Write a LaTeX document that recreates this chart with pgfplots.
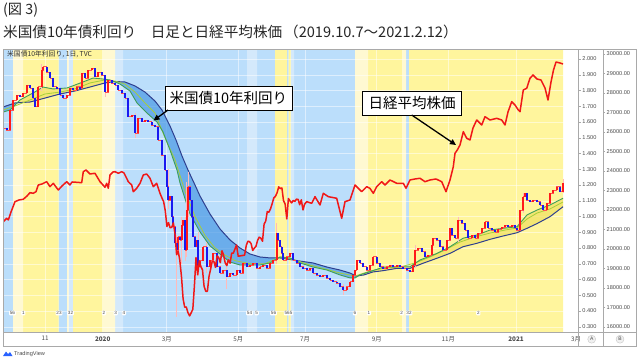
\documentclass[border=0pt]{standalone}
\usepackage{fontspec}
\setmainfont{Noto Sans CJK JP}
\newfontfamily\tickfont{Liberation Sans}
\usepackage{pgfplots}
\pgfplotsset{compat=1.18}
\usepackage{pgfplotstable}
\usetikzlibrary{arrows.meta}

\definecolor{bgY}{HTML}{FFF59D}
\definecolor{bgPY}{HTML}{FFF9D2}
\definecolor{bgB}{HTML}{BBDEFB}
\definecolor{bgPB}{HTML}{D4E9FB}
\definecolor{maNavy}{HTML}{2E3F8F}
\definecolor{maGreen}{HTML}{3E9E5A}
\definecolor{maLime}{HTML}{A6CF3A}
\definecolor{fillB}{HTML}{4D9BE6}
\definecolor{fillY}{HTML}{F0E060}
\definecolor{nkRed}{HTML}{F01818}
\definecolor{cUp}{HTML}{FF1A1A}
\definecolor{cDn}{HTML}{1A1AF0}
\definecolor{frameG}{HTML}{A9A9A9}
\definecolor{tickG}{HTML}{4A4A4A}
\definecolor{tvBlue}{HTML}{2962FF}

% US 10y yield candles: x (bar position), open, close
\pgfplotstableread{
x o c
3.3 1.545 1.560
6.7 1.560 1.549
10 1.549 1.676
13.3 1.676 1.740
16.7 1.740 1.771
20 1.771 1.761
23.3 1.761 1.782
26.7 1.782 1.835
30 1.835 1.814
33.3 1.814 1.750
35 1.750 1.697
38.3 1.697 1.824
41.7 1.824 1.930
43.3 1.930 1.951
46.7 1.951 1.919
50 1.919 1.877
53.3 1.877 1.824
56.7 1.824 1.814
60 1.814 1.771
63.3 1.771 1.750
66.7 1.750 1.771
70 1.771 1.814
73.3 1.814 1.803
76.7 1.803 1.824
80 1.824 1.814
81.7 1.814 1.909
85 1.909 1.877
88.3 1.877 1.930
91.7 1.930 1.941
95 1.941 1.888
98.3 1.888 1.919
101.7 1.919 1.898
105 1.898 1.792
108.3 1.792 1.867
111.7 1.867 1.846
115 1.846 1.835
118.3 1.835 1.803
121.7 1.803 1.782
125 1.782 1.750
128.3 1.750 1.634
131.7 1.634 1.644
135 1.644 1.528
138.3 1.528 1.623
141.7 1.623 1.602
145 1.602 1.613
148.3 1.613 1.602
151.7 1.602 1.581
155 1.581 1.570
158.3 1.570 1.486
161.7 1.486 1.390
165 1.390 1.295
166.7 1.295 1.189
168.3 1.189 1.105
170 1.105 1.130
171.7 1.130 0.999
173.3 0.999 0.935
175 0.935 0.830
176.7 0.830 0.787
178.3 0.787 0.872
180 0.872 0.851
181.7 0.851 0.946
183.3 0.946 0.978
185 0.978 0.787
186.7 0.787 1.041
188.3 1.041 1.189
190 1.189 1.105
191.7 1.105 0.999
193.3 0.999 0.872
195 0.872 0.808
196.7 0.808 0.851
198.3 0.851 0.681
200 0.681 0.720
203.3 0.720 0.808
206.7 0.808 0.681
210 0.681 0.724
213.3 0.724 0.766
216.7 0.766 0.681
220 0.681 0.639
223.3 0.639 0.660
226.7 0.660 0.618
230 0.618 0.639
233.3 0.639 0.629
236.7 0.629 0.660
240 0.660 0.639
243.3 0.639 0.703
246.7 0.703 0.681
250 0.681 0.692
253.3 0.692 0.703
256.7 0.703 0.671
260 0.671 0.681
263.3 0.681 0.692
266.7 0.692 0.671
270 0.671 0.703
273.3 0.703 0.724
276.7 0.724 0.893
278.3 0.893 0.851
280 0.851 0.808
281.7 0.808 0.766
283.3 0.766 0.724
286.7 0.724 0.745
290 0.745 0.766
293.3 0.766 0.724
296.7 0.724 0.703
300 0.703 0.681
303.3 0.681 0.671
306.7 0.671 0.660
310 0.660 0.671
313.3 0.671 0.639
316.7 0.639 0.629
320 0.629 0.618
323.3 0.618 0.629
326.7 0.629 0.608
330 0.608 0.597
333.3 0.597 0.586
336.7 0.586 0.576
340 0.576 0.554
343.3 0.554 0.533
346.7 0.533 0.554
350 0.554 0.586
353.3 0.586 0.629
355 0.629 0.660
356.7 0.660 0.724
360 0.724 0.703
363.3 0.703 0.681
366.7 0.681 0.660
370 0.660 0.692
373.3 0.692 0.745
376.7 0.745 0.703
380 0.703 0.681
383.3 0.681 0.671
386.7 0.671 0.681
390 0.681 0.692
393.3 0.692 0.681
396.7 0.681 0.692
400 0.692 0.681
403.3 0.681 0.671
406.7 0.671 0.660
410 0.660 0.650
413.3 0.650 0.692
415 0.692 0.787
418.3 0.787 0.798
421.7 0.798 0.777
425 0.777 0.745
428.3 0.745 0.756
431.7 0.756 0.819
433.3 0.819 0.862
436.7 0.862 0.851
440 0.851 0.808
443.3 0.808 0.787
446.7 0.787 0.851
450 0.851 0.925
451.7 0.925 0.883
455 0.883 0.862
458.3 0.862 0.978
461.7 0.978 0.957
465 0.957 0.914
468.3 0.914 0.862
471.7 0.862 0.883
475 0.883 0.862
478.3 0.862 0.893
481.7 0.893 0.925
485 0.925 0.967
488.3 0.967 0.925
491.7 0.925 0.914
495 0.914 0.903
498.3 0.903 0.921
501.7 0.921 0.931
505 0.931 0.946
508.3 0.946 0.935
511.7 0.935 0.946
515 0.946 0.925
516.7 0.925 0.914
520 0.914 1.041
523.3 1.041 1.126
525 1.126 1.147
526.7 1.147 1.105
530 1.105 1.094
533.3 1.094 1.105
536.7 1.105 1.094
540 1.094 1.073
543.3 1.073 1.041
546.7 1.041 1.084
550 1.084 1.147
553.3 1.147 1.168
556.7 1.168 1.189
560 1.189 1.158
563.3 1.158 1.211
}\candles

% a few long candle wicks: x, low, high
\pgfplotstableread{
x lo hi
41.7 1.80 1.97
105 1.76 1.90
135 1.50 1.66
168.3 1.05 1.30
176.7 0.36 0.88
181.7 0.70 1.00
185 0.72 1.00
186.7 0.74 1.22
188.3 1.00 1.28
198.3 0.62 0.90
206.7 0.64 0.84
226.7 0.54 0.68
276.7 0.70 0.96
343.3 0.50 0.57
415 0.67 0.82
458.3 0.84 1.00
523.3 1.02 1.15
563.3 1.15 1.24
}\wicks

\pgfplotstableread{
x y
3 1.695
15 1.721
30 1.727
45 1.752
60 1.778
75 1.797
90 1.822
105 1.848
115 1.857
125 1.854
135 1.829
145 1.790
155 1.733
162 1.676
170 1.575
176 1.486
182 1.384
188 1.295
195 1.200
200 1.130
210 1.016
220 0.921
230 0.851
240 0.800
250 0.762
260 0.743
270 0.737
280 0.737
293 0.724
300 0.717
313 0.705
327 0.679
340 0.660
350 0.641
356 0.622
364 0.629
373 0.648
383 0.656
397 0.671
410 0.671
423 0.703
437 0.735
450 0.766
463 0.808
477 0.830
490 0.855
503 0.876
517 0.897
527 0.925
537 0.955
550 0.999
563 1.062
}\navyMA

\pgfplotstableread{
x y
3 1.663
10 1.676
20 1.740
33 1.784
43 1.822
53 1.810
67 1.816
83 1.854
93 1.879
103 1.873
110 1.867
120 1.841
130 1.797
137 1.721
147 1.657
157 1.600
163 1.537
170 1.422
177 1.295
180 1.213
187 1.073
190 1.016
200 0.902
210 0.813
220 0.762
230 0.711
240 0.692
250 0.692
260 0.692
270 0.705
280 0.743
290 0.737
300 0.705
313 0.679
327 0.660
340 0.629
350 0.610
355 0.610
360 0.629
370 0.650
383 0.678
397 0.681
410 0.681
420 0.724
437 0.766
450 0.808
463 0.862
477 0.883
490 0.914
503 0.925
517 0.935
527 1.010
537 1.041
550 1.073
563 1.116
}\greenMA

\pgfplotstableread{
x y
3 1.676
15 1.702
30 1.740
45 1.778
60 1.790
75 1.810
90 1.848
105 1.867
115 1.860
125 1.841
135 1.790
145 1.721
155 1.657
165 1.500
175 1.360
185 1.160
195 1.000
205 0.880
215 0.800
225 0.755
235 0.720
250 0.700
265 0.700
280 0.743
295 0.724
310 0.692
325 0.667
340 0.641
355 0.622
370 0.654
385 0.673
400 0.679
415 0.705
430 0.743
445 0.787
460 0.838
475 0.870
490 0.895
505 0.914
517 0.927
527 0.984
537 1.022
550 1.048
563 1.092
}\limeMA

\pgfplotstableread{
x y
3.3 21392
6.7 21567
8.3 21479
11 21890
15 22419
19 22506
23.3 22542
27 22711
30 22881
33.3 22850
36 22932
38.3 23276
42 23327
46.7 23445
50 23189
53.3 23363
56 23173
58.3 23019
62 23224
66.7 23445
70 23276
72 23430
76.7 23414
81.7 23394
83.3 23959
86 24046
90 23841
95 23876
100 23445
103 23276
105 23158
106.7 23363
108.3 23107
110 23789
113 23943
115 23959
118.3 23876
121.7 23959
124 23892
128.3 23445
131.7 23276
133.3 22932
136.7 23107
140 23363
143.3 23789
146.7 23841
150 23620
153.3 23189
156.7 23363
160 22850
162 22605
163.6 22426
165.3 21948
166.9 21142
168.5 21344
170.1 21082
171.7 21100
173.4 21329
175 20750
176.6 19698
178.2 19867
179.8 19416
181.5 18560
183.1 17431
184.7 17002
186.3 17012
187.9 16727
189.6 16552
192.8 16887
194.4 18092
196 19546
197.7 18665
199.3 19389
200.9 19084
202.5 18917
204.1 18065
205.8 17819
207.4 17820
209 18576
210.6 18950
212.2 19353
213.9 19345
215.5 19043
217.1 19638
218.7 19550
220.3 19290
222 19897
223.6 19669
225.2 19280
226.8 19137
228.4 19429
230.1 19262
231.7 19783
233.3 19771
236.5 20193
238.2 19619
244.6 19674
246.3 20179
247.9 20390
249.5 20366
251.1 20267
252.7 19914
254.4 20037
256 20133
257.6 20433
259.2 20595
260.8 20552
262.5 20388
264.1 21271
265.7 21419
267.3 21916
268.9 21877
270.6 22062
272.2 22325
273.8 22613
275.4 22695
277 22863
278.7 23178
280.3 23091
281.9 23124
283.5 22472
285.1 22305
286.8 21530
288.4 22582
290 22455
291.6 22355
293.2 22478
294.9 22437
296.5 22549
298.1 22534
299.7 22260
301.3 22512
303 21995
304.6 22288
306.7 22420
311.7 22336
315 22676
320 22250
323.3 22850
328.3 22676
336.7 22594
341.7 21566
345 22420
350 22506
355 23276
361.7 22932
366.7 23189
370 23100
373.3 22850
376.7 23189
381.7 23445
385 23276
390 23533
396.7 23363
403.3 23363
406 23107
410 23533
415 23584
420 23620
425 23445
430 23533
436 23584
441.7 23445
446 22932
448.3 23276
450 23533
453.3 24216
455 24903
457.3 25073
460 25329
463.3 26012
466.7 25673
470 25586
473 26202
476.7 26612
481.7 26356
485 26782
490 26612
496.7 26699
501.7 26612
505 26356
508 27023
511.7 27552
515 27382
518.3 27126
520 27039
523.3 28152
526.7 28240
530 28753
533 28923
537 28717
541 28666
545 28255
548 27639
551 28563
553.5 29179
556 29590
560 29538
563 29487
}\nikkei

\pgfplotsset{
  chartbox/.style={at={(3pt,27.3pt)}, anchor=south west, scale only axis, height=283.7pt},
}

\begin{document}
\begin{tikzpicture}[x=1pt,y=1pt]
\path[use as bounding box] (0,0) rectangle (640,360);

% ---- background state bands
\begin{axis}[chartbox, width=575.7pt, xmin=3, xmax=578.7, ymin=0.2622, ymax=2.0635, hide axis]
\addplot[fill=bgB, draw=none] coordinates {(3,0)(3,3)(13,3)(13,0)(58.5,0)(58.5,3)(67,3)(67,0)(123,0)(123,3)(247,3)(247,0)(257,0)(257,3)(275,3)(275,0)(287,0)(287,3)(288.5,3)(288.5,0)(294,0)(294,3)(355,3)(355,0)(406,0)(406,3)(409,3)(409,0)} --cycle;
\addplot[fill=bgPB, draw=none] coordinates {(68.5,0)(68.5,3)(73,3)(73,0)(115,0)(115,3)(123,3)(123,0)(247,0)(247,3)(257,3)(257,0)(290.5,0)(290.5,3)(294,3)(294,0)} --cycle;
\addplot[fill=bgY, draw=none] coordinates {(23,0)(23,3)(58.5,3)(58.5,0)(73,0)(73,3)(103,3)(103,0)(275,0)(275,3)(287,3)(287,0)(288.5,0)(288.5,3)(290.5,3)(290.5,0)(368,0)(368,3)(402,3)(402,0)(409,0)(409,3)(563,3)(563,0)} --cycle;
\addplot[fill=bgPY, draw=none] coordinates {(13,0)(13,3)(23,3)(23,0)(67,0)(67,3)(68.5,3)(68.5,0)(103,0)(103,3)(115,3)(115,0)(355,0)(355,3)(368,3)(368,0)(402,0)(402,3)(406,3)(406,0)} --cycle;
\end{axis}

% ---- yield axis
\begin{axis}[chartbox, width=575.7pt, xmin=3, xmax=578.7, ymin=0.2622, ymax=2.0635,
  axis line style={draw=none},
  xtick={45,102.7,166.7,238.3,305,376.7,448.3,516,576},
  xticklabels={11,\textbf{2020},3月,5月,7月,9月,11月,\textbf{2021},3月},
  xtick style={draw=none},
  xticklabel style={font=\fontsize{6.3}{7}\selectfont, text=tickG, inner sep=1.5pt},
  ytick={0.3,0.4,0.5,0.6,0.7,0.8,0.9,1.0,1.1,1.2,1.3,1.4,1.5,1.6,1.7,1.8,1.9,2.0},
  ytick pos=right, yticklabel pos=right,
  tick align=outside, major tick length=2pt,
  ytick style={draw=frameG, line width=0.4pt},
  yticklabel style={font=\tickfont\fontsize{5.6}{6}\selectfont, text=tickG, inner sep=1.5pt,
     /pgf/number format/.cd, fixed, fixed zerofill, precision=3, assume math mode=true},
  grid=major, major grid style={white, line width=0.5pt, opacity=0.5}]
% band between short and long moving averages
\addplot[fill=fillB, fill opacity=0.72, draw=none] coordinates {(3,1.695)(15,1.721)(17,1.722)(10,1.676)(3,1.663)} --cycle;
\addplot[fill=fillY, fill opacity=0.7, draw=none] coordinates {(17,1.722)(30,1.727)(45,1.752)(60,1.778)(75,1.797)(90,1.822)(105,1.848)(114,1.857)(110,1.867)(103,1.873)(93,1.879)(83,1.854)(67,1.816)(53,1.810)(43,1.822)(33,1.784)(20,1.740)} --cycle;
\addplot[fill=fillB, fill opacity=0.72, draw=none] coordinates {(114,1.857)(115,1.857)(125,1.854)(135,1.829)(145,1.790)(155,1.733)(162,1.676)(170,1.575)(176,1.486)(182,1.384)(188,1.295)(195,1.200)(200,1.130)(210,1.016)(220,0.921)(230,0.851)(240,0.800)(250,0.762)(260,0.743)(270,0.737)(280,0.737)(293,0.724)(300,0.717)(313,0.705)(327,0.679)(340,0.660)(350,0.641)(356,0.622)(361,0.628)(360,0.629)(355,0.610)(350,0.610)(340,0.629)(327,0.660)(313,0.679)(300,0.705)(290,0.737)(280,0.743)(270,0.705)(260,0.692)(250,0.692)(240,0.692)(230,0.711)(220,0.762)(210,0.813)(200,0.902)(190,1.016)(187,1.073)(180,1.213)(177,1.295)(170,1.422)(163,1.537)(157,1.600)(147,1.657)(137,1.721)(130,1.797)(120,1.841)} --cycle;
\addplot[fill=fillY, fill opacity=0.7, draw=none] coordinates {(361,0.628)(364,0.629)(373,0.648)(383,0.656)(397,0.671)(410,0.671)(423,0.703)(437,0.735)(450,0.766)(463,0.808)(477,0.830)(490,0.855)(503,0.876)(517,0.897)(527,0.925)(537,0.955)(550,0.999)(563,1.062)(563,1.116)(550,1.073)(537,1.041)(527,1.010)(517,0.935)(503,0.925)(490,0.914)(477,0.883)(463,0.862)(450,0.808)(437,0.766)(420,0.724)(410,0.681)(397,0.681)(383,0.678)(370,0.650)} --cycle;
\addplot[maNavy, line width=1pt] table[x=x,y=y] {\navyMA};
\addplot[maLime, line width=0.8pt] table[x=x,y=y] {\limeMA};
\addplot[maGreen, line width=0.9pt] table[x=x,y=y] {\greenMA};
% wicks
\addplot[draw=none, mark=none,
  error bars/.cd, y dir=both, y explicit,
  error bar style={line width=0.6pt, draw=cUp!30}, error mark=none]
  table[x=x, y expr={(\thisrow{lo}+\thisrow{hi})/2}, y error expr={(\thisrow{hi}-\thisrow{lo})/2}] {\wicks};
% thin connector between successive candles
\addplot[const plot, cUp!75, line width=0.5pt] table[x=x, y=c] {\candles};
% up candles
\addplot[draw=none, mark=none,
  restrict expr to domain={\thisrow{c}-\thisrow{o}}{0:5},
  error bars/.cd, y dir=both, y explicit,
  error bar style={line width=2.2pt, draw=cUp}, error mark=none]
  table[x=x, y expr={(\thisrow{o}+\thisrow{c})/2}, y error expr={abs(\thisrow{c}-\thisrow{o})/2}] {\candles};
% down candles
\addplot[draw=none, mark=none,
  restrict expr to domain={\thisrow{c}-\thisrow{o}}{-5:-0.0001},
  error bars/.cd, y dir=both, y explicit,
  error bar style={line width=2.2pt, draw=cDn}, error mark=none]
  table[x=x, y expr={(\thisrow{o}+\thisrow{c})/2}, y error expr={abs(\thisrow{c}-\thisrow{o})/2}] {\candles};
\end{axis}

% ---- Nikkei axis
\begin{axis}[chartbox, width=600pt, xmin=3, xmax=603, ymin=15692, ymax=30257,
  axis line style={draw=none}, xtick=\empty,
  ytick={16000,17000,18000,19000,20000,21000,22000,23000,24000,25000,26000,27000,28000,29000,30000},
  ytick pos=right, yticklabel pos=right,
  tick align=outside, major tick length=2pt, scaled y ticks=false,
  ytick style={draw=frameG, line width=0.4pt},
  yticklabel style={font=\tickfont\fontsize{5.6}{6}\selectfont, text=tickG, inner sep=1.5pt,
     /pgf/number format/.cd, fixed, fixed zerofill, precision=2, 1000 sep={}, assume math mode=true}]
\addplot[nkRed, line width=1.5pt, line join=round] table[x=x,y=y] {\nikkei};
\end{axis}

% ---- frame
\draw[frameG, line width=0.6pt] (3,14) rectangle (636,311);
\draw[frameG, line width=0.6pt] (3,27.3) -- (636,27.3);
\draw[frameG, line width=0.6pt] (578.7,14) -- (578.7,311);
\draw[frameG, line width=0.6pt] (603,14) -- (603,311);
\foreach \xx/\ll in {591.7/A,620/B}{
  \node[circle, draw=gray!45, fill=gray!12, inner sep=0pt, minimum size=8pt,
        font=\tickfont\fontsize{5}{5}\selectfont, text=tickG] at (\xx,20.8) {\ll};
}

% ---- series name
\node[anchor=west, font=\fontsize{6.8}{7}\selectfont, text=black!80, inner sep=0pt] at (7,305.8) {米国債10年利回り, 1日, TVC};

% ---- event markers
\foreach \xx/\tt in {12.5/56,23.3/1,59/23,70.5/32,104/2,115.7/3,124/4,249.5/54,256.7/5,273.5/56,288.5/565,355/6,369/1,401.7/2,409/32,478.3/2}{
  \node[fill=white, rounded corners=1pt, inner sep=0.8pt, font=\tickfont\fontsize{4.6}{5}\selectfont, text=tickG] at (\xx,47) {\tt};
}

% ---- callouts
\node[draw=black, fill=white, line width=0.6pt, minimum width=127pt, minimum height=23.3pt, inner sep=0pt,
      font=\fontsize{14.5}{15}\selectfont] at (228.3,261.7) {米国債10年利回り};
\draw[-{Triangle[length=6pt,width=5.5pt]}, line width=1.3pt] (168,250) -- (153.5,239.5);
\node[draw=black, fill=white, line width=0.6pt, minimum width=99pt, minimum height=23.3pt, inner sep=0pt,
      font=\fontsize{14.5}{15}\selectfont] at (412.2,256.7) {日経平均株価};
\draw[-{Triangle[length=6pt,width=5.5pt]}, line width=1.3pt] (411.7,245) -- (456,215);

% ---- titles
\node[anchor=west, inner sep=0pt, font=\fontsize{14.2}{15}\selectfont, text=black!85] at (3,350) {(図 3)};
\node[anchor=west, inner sep=0pt, font=\fontsize{14.6}{15}\selectfont, text=black!85] at (3,328) {米国債10年債利回り　日足と日経平均株価\hspace{2pt}（2019.10.7～2021.2.12）};

% ---- logo
\fill[tvBlue] (3,4) -- (6,8.5) -- (8,6) -- (10,8) -- (12.5,4) -- cycle;
\node[anchor=west, inner sep=0pt, font=\tickfont\fontsize{5.6}{6}\selectfont, text=tickG] at (14,6) {TradingView};
\end{tikzpicture}
\end{document}
